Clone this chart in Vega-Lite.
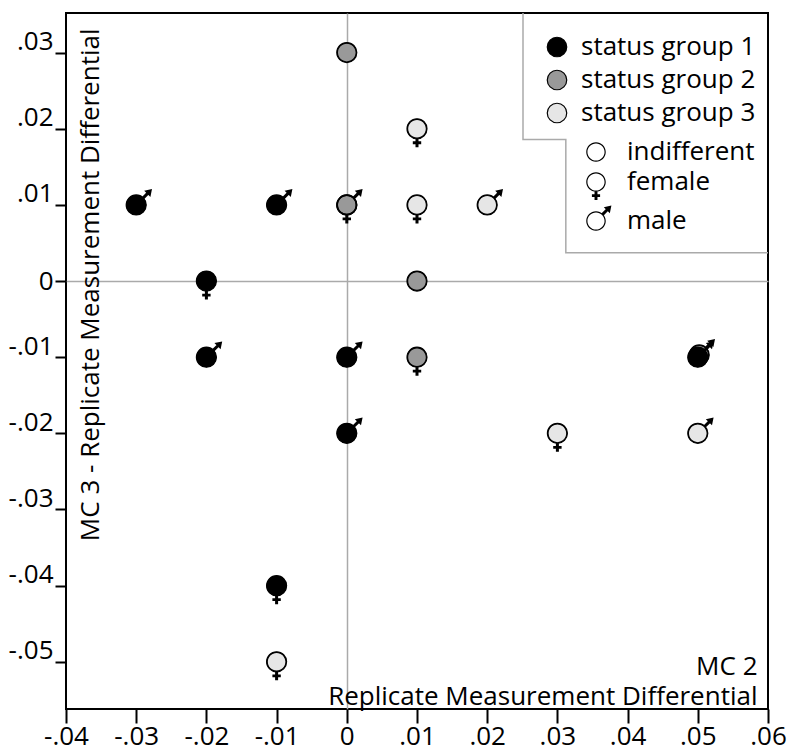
{
  "$schema": "https://vega.github.io/schema/vega-lite/v6.json",
  "width": 702,
  "height": 696,
  "autosize": {"type": "none"},
  "padding": {"left": 66, "top": 13, "right": 22, "bottom": 46},
  "background": "white",
  "config": {
    "font": "Open Sans",
    "view": {"stroke": "black", "strokeWidth": 2},
    "axis": {"labelColor": "black", "titleColor": "black", "titleFontWeight": "normal", "labelFont": "Open Sans", "titleFont": "Open Sans"},
    "legend": {"labelColor": "black", "labelFont": "Open Sans", "labelLimit": 0}
  },
  "datasets": {
    "points": [
      {"x": -0.03, "y": 0.01, "status": "status group 1", "sex": "male"},
      {"x": -0.01, "y": 0.01, "status": "status group 1", "sex": "male"},
      {"x": 0, "y": 0.03, "status": "status group 2", "sex": "indifferent"},
      {"x": 0, "y": 0.01, "status": "status group 2", "sex": "female"},
      {"x": 0, "y": 0.01, "status": "status group 2", "sex": "male"},
      {"x": 0.01, "y": 0.02, "status": "status group 3", "sex": "female"},
      {"x": 0.01, "y": 0.01, "status": "status group 3", "sex": "female"},
      {"x": 0.02, "y": 0.01, "status": "status group 3", "sex": "male"},
      {"x": -0.02, "y": 0, "status": "status group 1", "sex": "female"},
      {"x": 0.01, "y": 0, "status": "status group 2", "sex": "indifferent"},
      {"x": -0.02, "y": -0.01, "status": "status group 1", "sex": "male"},
      {"x": 0, "y": -0.01, "status": "status group 1", "sex": "male"},
      {"x": 0.01, "y": -0.01, "status": "status group 2", "sex": "female"},
      {"x": 0.0502, "y": -0.0097, "status": "status group 2", "sex": "male"},
      {"x": 0.05, "y": -0.01, "status": "status group 1", "sex": "male"},
      {"x": 0, "y": -0.02, "status": "status group 1", "sex": "male"},
      {"x": 0.03, "y": -0.02, "status": "status group 3", "sex": "female"},
      {"x": 0.05, "y": -0.02, "status": "status group 3", "sex": "male"},
      {"x": -0.01, "y": -0.04, "status": "status group 1", "sex": "female"},
      {"x": -0.01, "y": -0.05, "status": "status group 3", "sex": "female"}
    ],
    "legendframe": [
      {"i": 1, "x": 0.0251, "y": 0.0352},
      {"i": 2, "x": 0.0251, "y": 0.0186},
      {"i": 3, "x": 0.0312, "y": 0.0186},
      {"i": 4, "x": 0.0312, "y": 0.0037},
      {"i": 5, "x": 0.06, "y": 0.0037}
    ]
  },
  "encoding": {
    "x": {
      "field": "x", "type": "quantitative",
      "scale": {"domain": [-0.04, 0.06], "nice": false, "zero": false},
      "axis": {
        "values": [-0.04, -0.03, -0.02, -0.01, 0, 0.01, 0.02, 0.03, 0.04, 0.05, 0.06],
        "labelExpr": "abs(datum.value) < 1e-9 ? '0' : (datum.value < 0 ? '-' : '') + '.0' + round(abs(datum.value) * 100)",
        "domain": false,
        "tickSize": 14, "tickWidth": 2, "tickColor": "black",
        "labelFontSize": 26, "labelPadding": 0, "labelFlush": false, "labelOverlap": false,
        "grid": true, "gridColor": "#aaaaaa", "gridWidth": 1.5,
        "gridOpacity": {"condition": {"test": "abs(datum.value) < 1e-9", "value": 1}, "value": 0},
        "title": ["MC 2", "Replicate Measurement Differential"],
        "titleFontSize": 26, "titleLineHeight": 30,
        "titleAlign": "right", "titleBaseline": "alphabetic",
        "titleX": 691, "titleY": -35
      }
    },
    "y": {
      "field": "y", "type": "quantitative",
      "scale": {"domain": [-0.0562, 0.0352], "nice": false, "zero": false},
      "axis": {
        "values": [-0.05, -0.04, -0.03, -0.02, -0.01, 0, 0.01, 0.02, 0.03],
        "labelExpr": "abs(datum.value) < 1e-9 ? '0' : (datum.value < 0 ? '-' : '') + '.0' + round(abs(datum.value) * 100)",
        "domain": false,
        "tickSize": 11, "tickWidth": 2, "tickColor": "black",
        "labelFontSize": 26, "labelPadding": 2, "labelFlush": false, "labelOverlap": false,
        "labelBaseline": {"condition": {"test": "abs(datum.value) < 1e-9", "value": "middle"}, "value": "alphabetic"},
        "labelOffset": {"condition": {"test": "abs(datum.value) < 1e-9", "value": 0}, "value": -3},
        "grid": true, "gridColor": "#aaaaaa", "gridWidth": 1.5,
        "gridOpacity": {"condition": {"test": "abs(datum.value) < 1e-9", "value": 1}, "value": 0},
        "title": "MC 3 - Replicate Measurement Differential",
        "titleFontSize": 26, "titleAngle": -90,
        "titleAlign": "right", "titleBaseline": "alphabetic",
        "titleX": 32, "titleY": 15
      }
    }
  },
  "layer": [
    {
      "data": {"name": "legendframe"},
      "mark": {"type": "line", "color": "#aaaaaa", "strokeWidth": 1.5},
      "encoding": {"order": {"field": "i", "type": "quantitative"}}
    },
    {
      "data": {"name": "points"},
      "mark": {"type": "point", "shape": "circle", "filled": true, "size": 400, "stroke": "black", "strokeWidth": 1.2, "opacity": 1},
      "encoding": {
        "fill": {
          "field": "status", "type": "nominal",
          "scale": {"domain": ["status group 1", "status group 2", "status group 3"], "range": ["#000000", "#999999", "#e6e6e6"]},
          "legend": {
            "orient": "none", "legendX": 478, "legendY": 21, "title": null, "padding": 0,
            "symbolType": "circle", "symbolSize": 380, "symbolStrokeColor": "black", "symbolStrokeWidth": 1.2, "symbolOpacity": 1,
            "labelFontSize": 26, "labelOffset": 11, "rowPadding": 7
          }
        }
      }
    },
    {
      "data": {"name": "points"},
      "mark": {"type": "point", "filled": true, "fill": "black", "size": 400, "strokeWidth": 0, "opacity": 1},
      "encoding": {
        "shape": {
          "field": "sex", "type": "nominal",
          "scale": {
            "domain": ["indifferent", "female", "male"],
            "range": [
              "M1,0A1,1,0,1,1,-1,0A1,1,0,1,1,1,0ZM0.88,0A0.88,0.88,0,1,0,-0.88,0A0.88,0.88,0,1,0,0.88,0Z",
              "M1,0A1,1,0,1,1,-1,0A1,1,0,1,1,1,0ZM0.88,0A0.88,0.88,0,1,0,-0.88,0A0.88,0.88,0,1,0,0.88,0ZM-0.15,0.95L0.15,0.95L0.15,1.26L0.42,1.26L0.42,1.54L0.15,1.54L0.15,1.85L-0.15,1.85L-0.15,1.54L-0.42,1.54L-0.42,1.26L-0.15,1.26Z",
              "M1,0A1,1,0,1,1,-1,0A1,1,0,1,1,1,0ZM0.88,0A0.88,0.88,0,1,0,-0.88,0A0.88,0.88,0,1,0,0.88,0ZM1.094,-1.306L1.306,-1.094L0.786,-0.574L0.574,-0.786ZM1.58,-1.58L1.42,-0.8L0.8,-1.42Z"
            ]
          },
          "legend": {
            "orient": "none", "legendX": 517, "legendY": 126, "title": null, "padding": 0,
            "symbolSize": 380, "symbolFillColor": "black", "symbolStrokeWidth": 0, "symbolOpacity": 1,
            "labelFontSize": 26, "labelOffset": 18, "rowPadding": 4
          }
        }
      }
    }
  ]
}
